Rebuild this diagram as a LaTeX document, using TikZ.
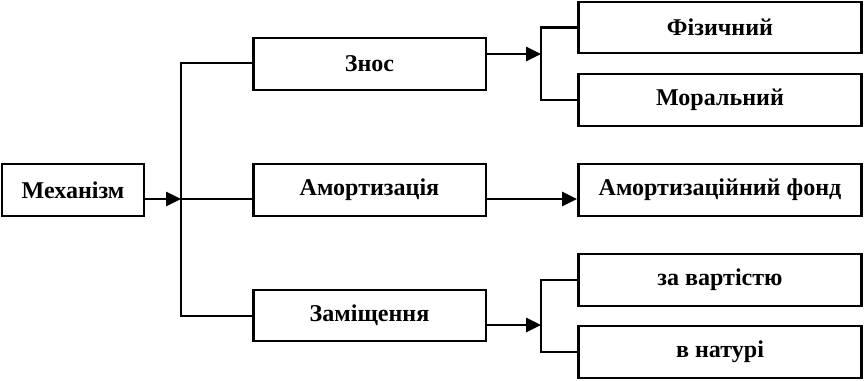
\documentclass[tikz,border=0pt]{standalone}
\usepackage{fontspec}
\setmainfont{Liberation Serif}
\usetikzlibrary{arrows.meta,positioning}
\tikzstyle{box} = [rectangle, draw=black, line width=1.4pt, minimum height=1.03cm, align=center, inner sep=2pt, font=\fontsize{13.7}{16}\selectfont\bfseries]
\tikzstyle{wire} = [line width=1.3pt]
\tikzstyle{arr} = [-{Triangle[length=8.5pt,width=8pt]}, line width=1.3pt]

\begin{document}
\begin{tikzpicture}[x=0.02cm, y=-0.02cm]
\useasboundingbox (0,0) rectangle (866,380);
\node[box, minimum width=2.85cm] (mech) at (73,190) {Механізм};
\node[box, minimum width=4.65cm] (znos) at (369.5,64) {Знос};
\node[box, minimum width=4.65cm] (amort) at (369.5,190) {Амортизація};
\node[box, minimum width=4.65cm] (zamish) at (369.5,315.5) {Заміщення};
\node[box, minimum width=5.67cm] (fiz) at (720,27.5) {Фізичний};
\node[box, minimum width=5.67cm] (moral) at (720,100) {Моральний};
\node[box, minimum width=5.67cm] (fond) at (720,190) {Амортизаційний фонд};
\node[box, minimum width=5.67cm] (vart) at (720,280) {за вартістю};
\node[box, minimum width=5.67cm] (natur) at (720,352) {в натурі};

% main trunk
\coordinate (t1) at (181,199);
\coordinate (t1top) at (181,63);
\coordinate (t1bot) at (181,316);
\draw[arr] (mech.east |- t1) -- (t1);
\draw[wire] (znos.west |- t1top) -- (t1top) -- (t1bot) -- (zamish.west |- t1bot);
\draw[wire] (t1) -- (amort.west |- t1);

% branches
\coordinate (t2) at (541,54);
\coordinate (t3) at (541,325);
\draw[arr] (znos.east |- t2) -- (t2);
\draw[wire] (fiz.west) -| (t2) |- (moral.west);
\draw[arr] (amort.east |- t1) -- (fond.west |- t1);
\draw[arr] (zamish.east |- t3) -- (t3);
\draw[wire] (vart.west) -| (t3) |- (natur.west);
\end{tikzpicture}
\end{document}
